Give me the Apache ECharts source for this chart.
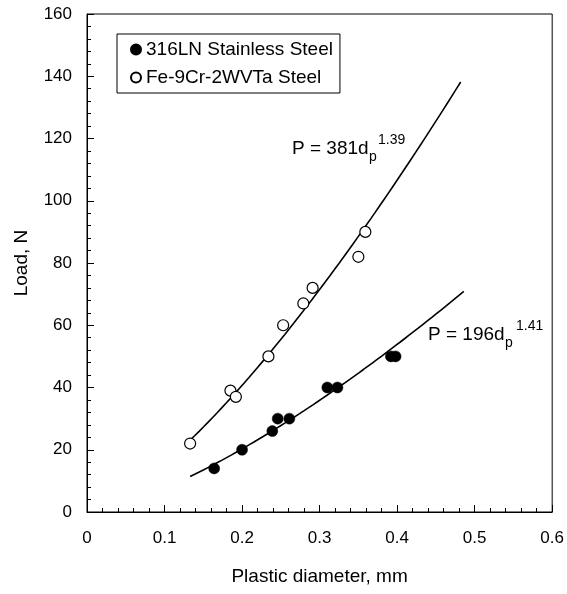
<!DOCTYPE html>
<html>
<head>
<meta charset="utf-8">
<script src="https://cdn.jsdelivr.net/npm/echarts@6/dist/echarts.min.js"></script>
<style>
  html, body { margin: 0; padding: 0; background: #fff; }
  #chart { width: 567px; height: 594px; }
</style>
</head>
<body>
<div id="chart"></div>
<script>
// Measured indentation data: plastic diameter (mm) vs. applied load (N)
const seriesNames = ['316LN Stainless Steel', 'Fe-9Cr-2WVTa Steel'];

const ssDiameter = [0.164, 0.200, 0.239, 0.246, 0.261, 0.310, 0.323, 0.392, 0.398];
const ssLoad     = [14, 20, 26, 30, 30, 40, 40, 50, 50];

const fmDiameter = [0.133, 0.185, 0.192, 0.234, 0.253, 0.279, 0.291, 0.350, 0.359];
const fmLoad     = [22, 39, 37, 50, 60, 67, 72, 82, 90];

// Power-law fits P = A * dp^n, as labelled on the plot
const fitCoef  = [196, 381];
const fitExp   = [1.41, 1.39];
const fitStart = [0.133, 0.133];
const fitEnd   = [0.486, 0.482];
const fitLabels = ['196', '381'];
const fitExpLabels = ['1.41', '1.39'];

// Axis ticks
const xTickMin = 0, xTickMax = 0.6, xTickStep = 0.1;
const yTickMin = 0, yTickMax = 160, yTickStep = 20;

function pairs(xs, ys) { return xs.map((x, i) => [x, ys[i]]); }

function fitCurve(k) {
  const pts = [];
  const n = 60;
  for (let i = 0; i <= n; i++) {
    const d = fitStart[k] + (fitEnd[k] - fitStart[k]) * i / n;
    pts.push([d, fitCoef[k] * Math.pow(d, fitExp[k])]);
  }
  return pts;
}

const FONT = '"Liberation Sans", Arial, Helvetica, sans-serif';

const chart = echarts.init(document.getElementById('chart'), null, { renderer: 'canvas' });

const axisCommon = {
  axisLine: { show: true, lineStyle: { color: '#000', width: 1 } },
  axisTick: { show: true, inside: true, length: 7, lineStyle: { color: '#000', width: 1 } },
  minorTick: { show: true, splitNumber: 5, length: 4, lineStyle: { color: '#000', width: 1 } },
  splitLine: { show: false },
  axisLabel: { color: '#000', fontSize: 17, fontFamily: FONT },
  nameLocation: 'middle',
  nameTextStyle: { color: '#000', fontSize: 19, fontFamily: FONT }
};

// Fit equation label: "P = A d" with subscript p and superscript exponent
function annotation(k, x, y, supX) {
  return {
    type: 'group',
    x: x, y: y,
    children: [
      { type: 'text', x: 0, y: 0,
        style: { text: 'P = ' + fitLabels[k] + 'd', font: '19px ' + FONT, fill: '#000', verticalAlign: 'middle' } },
      { type: 'text', x: 77, y: 8,
        style: { text: 'p', font: '14px ' + FONT, fill: '#000', verticalAlign: 'middle' } },
      { type: 'text', x: supX, y: -9,
        style: { text: fitExpLabels[k], font: '14px ' + FONT, fill: '#000', verticalAlign: 'middle' } }
    ]
  };
}

const option = {
  backgroundColor: '#fff',
  animation: false,
  grid: {
    left: 87, right: 14, top: 14, bottom: 82,
    show: true, borderColor: '#000', borderWidth: 1, backgroundColor: 'transparent'
  },
  legend: {
    data: seriesNames,
    orient: 'vertical',
    left: 117, top: 34,
    padding: [6, 7, 6, 13],
    itemGap: 9,
    itemWidth: 10, itemHeight: 10,
    borderColor: '#000', borderWidth: 1, borderRadius: 0,
    backgroundColor: '#fff',
    textStyle: { color: '#000', fontSize: 19, fontFamily: FONT, lineHeight: 18 },
    selectedMode: false
  },
  xAxis: Object.assign({}, axisCommon, {
    type: 'value',
    min: xTickMin, max: xTickMax, interval: xTickStep,
    name: 'Plastic diameter, mm',
    nameGap: 55,
    axisLabel: Object.assign({}, axisCommon.axisLabel, { margin: 18 })
  }),
  yAxis: Object.assign({}, axisCommon, {
    type: 'value',
    min: yTickMin, max: yTickMax, interval: yTickStep,
    name: 'Load, N',
    nameGap: 56,
    axisLabel: Object.assign({}, axisCommon.axisLabel, { margin: 15 })
  }),
  series: [
    {
      name: seriesNames[0], type: 'scatter', symbol: 'circle', symbolSize: 11,
      itemStyle: { color: '#000', borderColor: '#000', borderWidth: 0.5, opacity: 1 },
      data: pairs(ssDiameter, ssLoad), z: 3
    },
    {
      name: seriesNames[1], type: 'scatter', symbol: 'circle', symbolSize: 11,
      itemStyle: { color: '#fff', borderColor: '#000', borderWidth: 1.2, opacity: 1 },
      data: pairs(fmDiameter, fmLoad), z: 3
    },
    {
      name: 'fit-ss', type: 'line', showSymbol: false, smooth: false,
      lineStyle: { color: '#000', width: 1.6 },
      data: fitCurve(0), z: 2
    },
    {
      name: 'fit-fm', type: 'line', showSymbol: false, smooth: false,
      lineStyle: { color: '#000', width: 1.6 },
      data: fitCurve(1), z: 2
    }
  ],
  graphic: [
    annotation(1, 292, 149, 86),
    annotation(0, 428, 335, 88)
  ]
};

chart.setOption(option);
</script>
</body>
</html>
